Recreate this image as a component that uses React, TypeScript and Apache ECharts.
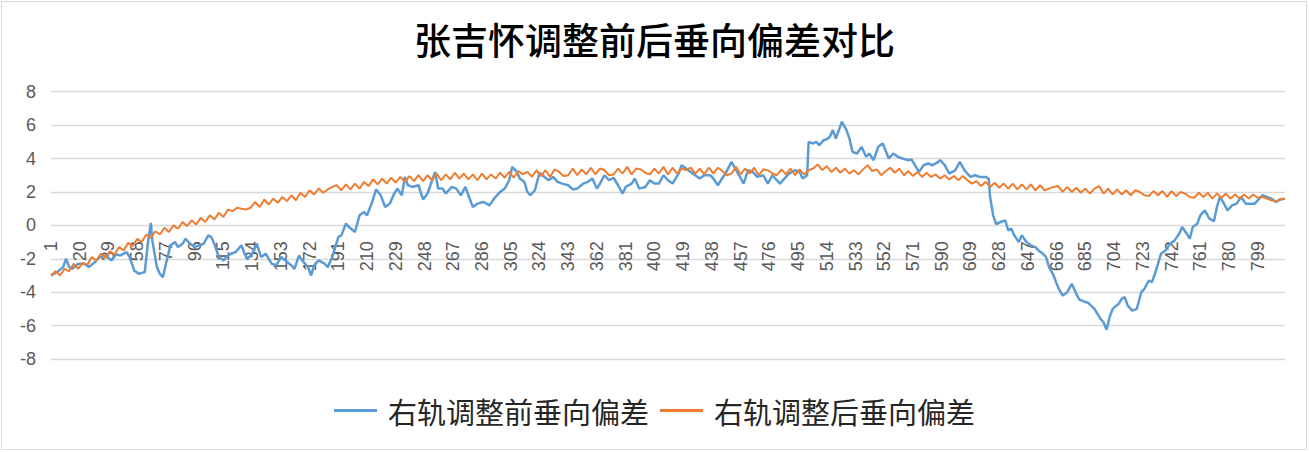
import React, { useEffect, useRef } from "react";
import * as echarts from "echarts";

const titleText = "张吉怀调整前后垂向偏差对比";
const seriesNames = ["右轨调整前垂向偏差", "右轨调整后垂向偏差"];
const pointCount = 817;
const categories = Array.from({ length: pointCount }, (_, i) => String(i + 1));
const yTicks = { min: -8, max: 8, interval: 2 };

// [category index, value]
const beforeData = [
  [0,-3.0],[4,-2.8],[8,-2.5],[10,-2.0],[12,-2.5],[14,-2.6],[18,-2.3],[22,-2.3],[25,-2.5],[29,-2.2],
  [32,-1.9],[36,-1.8],[40,-2.1],[43,-1.75],[46,-1.8],[50,-1.6],[52,-1.9],[55,-2.7],[58,-2.9],[62,-2.8],
  [64,-1.1],[66,0.15],[67,-0.9],[70,-2.5],[72,-2.9],[74,-3.1],[76,-2.3],[79,-1.2],[82,-1.0],[84,-1.3],
  [87,-1.1],[89,-0.8],[92,-1.1],[95,-1.3],[98,-1.2],[101,-1.1],[104,-0.6],[106,-0.7],[108,-1.1],[111,-1.9],
  [114,-2.1],[116,-1.9],[119,-1.7],[122,-1.6],[126,-1.2],[128,-1.7],[130,-2.0],[133,-1.7],[136,-1.1],[139,-1.9],
  [142,-1.7],[146,-2.3],[149,-2.4],[152,-1.9],[155,-2.1],[159,-2.4],[161,-2.6],[164,-1.8],[166,-2.1],[170,-2.5],
  [172,-3.0],[174,-2.4],[177,-2.1],[181,-2.3],[183,-2.5],[186,-1.9],[190,-0.7],[192,-0.6],[195,0.1],[197,-0.1],
  [201,-0.4],[204,0.6],[207,0.8],[209,0.6],[212,1.3],[215,2.15],[218,1.8],[221,1.1],[224,1.3],[227,1.9],
  [229,2.2],[232,1.8],[234,2.9],[236,2.4],[239,2.3],[243,2.4],[246,1.55],[249,1.9],[252,2.7],[254,3.2],
  [256,2.2],[259,2.2],[261,1.9],[265,2.3],[268,2.2],[271,1.8],[274,2.3],[276,1.8],[279,1.1],[282,1.3],
  [286,1.4],[290,1.2],[293,1.6],[297,2.0],[300,2.2],[303,2.7],[305,3.5],[308,3.2],[310,2.8],[313,2.6],
  [315,2.0],[317,1.8],[320,2.1],[323,3.15],[325,3.0],[329,2.7],[332,2.9],[335,2.6],[338,2.5],[342,2.4],
  [345,2.15],[348,2.2],[352,2.5],[355,2.6],[358,2.8],[361,2.2],[363,2.5],[366,3.0],[369,2.7],[372,2.85],
  [375,2.4],[378,1.9],[380,2.3],[384,2.5],[386,2.8],[389,2.2],[393,2.3],[396,2.7],[399,2.5],[402,2.5],
  [405,3.0],[408,2.7],[411,2.5],[415,3.1],[417,3.6],[420,3.4],[423,3.2],[426,3.0],[429,2.8],[432,3.0],
  [436,3.0],[438,2.8],[441,2.4],[443,2.7],[446,3.1],[450,3.8],[453,3.3],[455,3.0],[458,2.5],[461,3.3],
  [464,3.2],[467,2.9],[471,3.0],[474,2.5],[477,3.0],[482,2.5],[485,2.8],[488,3.1],[492,3.3],[495,3.2],
  [497,2.8],[500,3.0],[501,5.0],[504,4.9],[506,5.0],[508,4.8],[511,5.1],[513,5.15],[515,5.3],[517,5.7],
  [519,5.2],[521,5.7],[523,6.2],[526,5.7],[528,5.2],[530,4.4],[533,4.3],[536,4.7],[539,4.1],[541,4.3],
  [544,3.9],[547,4.7],[550,4.9],[554,4.0],[557,4.3],[560,4.1],[563,4.0],[567,3.9],[569,3.95],[572,3.5],
  [574,3.2],[577,3.6],[580,3.7],[583,3.6],[586,3.75],[588,3.9],[591,3.6],[594,3.1],[598,3.3],[601,3.8],
  [604,3.3],[608,2.9],[611,3.0],[614,2.9],[618,2.9],[620,2.8],[621,1.7],[623,0.6],[625,0.08],[628,0.2],
  [631,0.3],[633,-0.3],[635,-0.2],[637,-0.6],[640,-1.0],[642,-0.6],[645,-1.0],[648,-1.2],[651,-1.3],[653,-1.5],
  [656,-1.7],[658,-1.9],[660,-2.5],[663,-3.0],[665,-3.5],[667,-3.9],[669,-4.2],[672,-4.0],[675,-3.5],[678,-4.1],
  [680,-4.45],[683,-4.55],[686,-4.65],[690,-5.0],[694,-5.6],[696,-5.8],[698,-6.25],[700,-5.5],[702,-5.0],[706,-4.7],
  [708,-4.4],[710,-4.3],[712,-4.8],[715,-5.1],[718,-5.0],[721,-4.0],[723,-3.8],[726,-3.3],[728,-3.4],[730,-2.9],
  [732,-2.3],[734,-1.7],[737,-1.5],[740,-1.1],[743,-0.9],[746,-0.5],[748,-0.1],[751,-0.5],[753,-0.8],[755,-0.1],
  [758,0.1],[760,0.6],[763,0.9],[766,0.4],[769,0.25],[771,1.1],[773,1.7],[775,1.4],[778,0.9],[781,1.2],
  [784,1.3],[787,1.7],[790,1.3],[793,1.3],[796,1.3],[798,1.5],[801,1.8],[804,1.7],[807,1.6],[810,1.4],
  [813,1.55],[816,1.6]
];

const afterData = [
  [0,-3.0],[3,-2.75],[6,-3.0],[9,-2.6],[12,-2.75],[15,-2.3],[18,-2.6],[21,-2.25],[24,-2.35],[27,-1.9],
  [30,-2.1],[33,-1.7],[36,-1.95],[39,-1.55],[42,-1.75],[45,-1.3],[48,-1.5],[51,-1.05],[54,-1.25],[57,-0.8],
  [60,-1.0],[63,-0.55],[66,-0.75],[69,-0.35],[72,-0.55],[75,-0.15],[78,-0.4],[81,0.0],[84,-0.2],[87,0.2],
  [90,-0.05],[93,0.3],[96,0.05],[99,0.45],[102,0.2],[105,0.6],[108,0.35],[111,0.75],[114,0.5],[117,0.95],
  [120,0.85],[123,1.05],[126,1.0],[129,0.95],[132,1.05],[135,1.4],[138,1.1],[141,1.55],[144,1.25],[147,1.6],
  [150,1.35],[153,1.7],[156,1.45],[159,1.8],[162,1.5],[165,1.95],[168,1.7],[171,2.1],[174,1.85],[177,2.2],
  [180,1.95],[183,2.15],[186,2.3],[189,2.4],[192,2.1],[195,2.45],[198,2.15],[201,2.5],[204,2.2],[207,2.6],
  [210,2.35],[213,2.75],[216,2.45],[219,2.8],[222,2.5],[225,2.85],[228,2.55],[231,2.9],[234,2.6],[237,2.95],
  [240,2.65],[243,3.0],[246,2.65],[249,3.0],[252,2.7],[255,3.1],[258,2.7],[261,3.05],[264,2.75],[267,3.15],
  [270,2.8],[273,3.1],[276,2.75],[279,3.05],[282,2.7],[285,3.1],[288,2.75],[291,3.05],[294,2.8],[297,3.15],
  [300,2.85],[303,3.2],[306,2.85],[309,3.25],[312,3.05],[315,3.2],[318,2.9],[321,3.3],[324,2.95],[327,3.3],
  [330,2.9],[333,3.35],[336,3.2],[339,2.95],[342,3.0],[345,3.4],[348,3.0],[351,3.35],[354,3.05],[357,3.45],
  [360,3.05],[363,3.4],[366,3.3],[369,3.0],[372,3.05],[375,3.4],[378,3.1],[381,3.5],[384,3.05],[387,3.4],
  [390,3.35],[393,3.15],[396,3.05],[399,3.4],[402,3.1],[405,3.5],[408,3.05],[411,3.45],[414,3.1],[417,3.4],
  [420,3.3],[423,3.45],[426,3.1],[429,3.4],[432,3.05],[435,3.45],[438,3.1],[441,3.45],[444,3.25],[447,3.0],
  [450,3.1],[453,3.5],[456,3.05],[459,3.4],[462,3.1],[465,3.45],[468,3.0],[471,3.35],[474,3.3],[477,3.1],
  [480,3.0],[483,3.35],[486,3.05],[489,3.4],[492,3.0],[495,3.35],[498,3.05],[501,3.3],[504,3.4],[507,3.65],
  [510,3.3],[513,3.55],[516,3.2],[519,3.45],[522,3.15],[525,3.4],[528,3.1],[531,3.3],[534,3.05],[537,3.35],
  [540,3.6],[543,3.25],[546,3.35],[549,3.0],[552,3.25],[555,3.45],[558,3.15],[561,3.4],[564,3.0],[567,3.25],
  [570,2.95],[573,3.2],[576,2.9],[579,3.15],[582,2.9],[585,3.05],[588,2.8],[591,3.0],[594,2.75],[597,2.95],
  [600,2.7],[603,2.95],[606,2.7],[609,2.5],[612,2.65],[615,2.35],[618,2.6],[621,2.3],[624,2.55],[627,2.25],
  [630,2.5],[633,2.2],[636,2.5],[639,2.15],[642,2.45],[645,2.15],[648,2.45],[651,2.1],[654,2.4],[657,2.1],
  [660,2.2],[663,2.3],[666,2.35],[669,2.0],[672,2.3],[675,2.0],[678,2.25],[681,1.95],[684,2.2],[687,1.9],
  [690,2.2],[693,2.35],[696,1.9],[699,2.2],[702,1.85],[705,2.15],[708,1.85],[711,2.1],[714,1.8],[717,2.1],
  [720,2.0],[723,1.8],[726,1.75],[729,2.05],[732,1.8],[735,2.05],[738,1.7],[741,2.05],[744,1.75],[747,2.0],
  [750,1.9],[753,1.7],[756,1.65],[759,1.95],[762,1.7],[765,1.95],[768,1.6],[771,1.9],[774,1.65],[777,1.9],
  [780,1.6],[783,1.85],[786,1.6],[789,1.85],[792,1.6],[795,1.85],[798,1.65],[801,1.7],[804,1.6],[807,1.5],
  [810,1.45],[813,1.55],[816,1.6]
];

export default function App() {
  const ref = useRef<HTMLDivElement>(null);
  useEffect(() => {
    if (!ref.current) return;
    const chart = echarts.init(ref.current, null, { renderer: "svg" });
    const axisFont = { fontFamily: "Liberation Sans", fontSize: 18, color: "#595959" };
    chart.setOption({
      animation: false,
      backgroundColor: "#fff",
      title: {
        text: titleText,
        left: "center",
        top: 20,
        padding: 0,
        textStyle: { fontFamily: "Noto Sans CJK SC", fontSize: 37, fontWeight: 500, color: "#000" },
      },
      legend: {
        data: seriesNames,
        left: "center",
        top: 391,
        icon: "rect",
        itemWidth: 43,
        itemHeight: 3,
        itemGap: 11,
        textStyle: { fontFamily: "Noto Sans CJK SC", fontSize: 29, color: "#262626", padding: [0, 0, 0, 6] },
      },
      grid: { left: 51, right: 24, top: 91.7, bottom: 93, containLabel: false },
      xAxis: {
        type: "category",
        data: categories,
        boundaryGap: false,
        position: "bottom",
        offset: -133.7,
        axisLine: { show: false, onZero: false },
        axisTick: { show: false },
        splitLine: { show: false },
        axisLabel: { ...axisFont, rotate: 90, interval: 18, margin: 16 },
      },
      yAxis: {
        type: "value",
        min: yTicks.min,
        max: yTicks.max,
        interval: yTicks.interval,
        axisLine: { show: false },
        axisTick: { show: false },
        splitLine: { lineStyle: { color: "#d9d9d9", width: 1.3 } },
        axisLabel: { ...axisFont, margin: 15 },
      },
      graphic: [
        {
          type: "rect",
          shape: { x: 1.5, y: 1.5, width: 1305, height: 448 },
          style: { fill: "none", stroke: "#d9d9d9", lineWidth: 1 },
          silent: true,
        },
      ],
      series: [
        {
          name: seriesNames[0],
          type: "line",
          data: beforeData,
          symbol: "none",
          lineStyle: { color: "#5B9BD5", width: 2.5 },
          itemStyle: { color: "#5B9BD5" },
        },
        {
          name: seriesNames[1],
          type: "line",
          data: afterData,
          symbol: "none",
          lineStyle: { color: "#ED7D31", width: 2 },
          itemStyle: { color: "#ED7D31" },
        },
      ],
    });
    return () => chart.dispose();
  }, []);
  return (
    <div
      ref={ref}
      style={{ position: "absolute", left: 0, top: 0, width: 1309, height: 452 }}
    />
  );
}
